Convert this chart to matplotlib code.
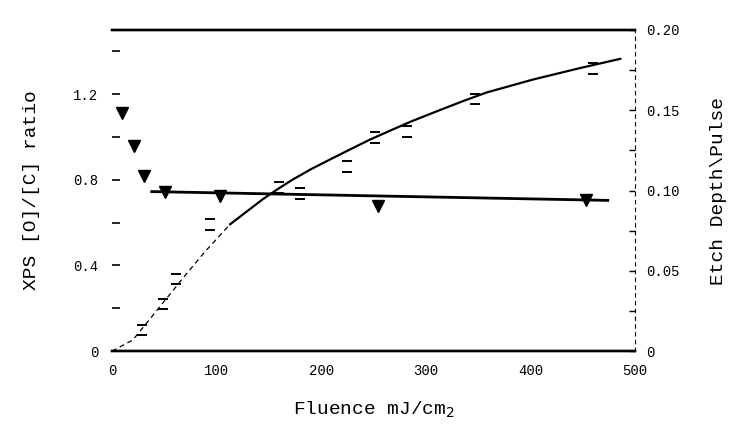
import matplotlib
matplotlib.use("Agg")
import matplotlib.pyplot as plt

# ---- data ----
fluence_ticks = [0, 100, 200, 300, 400, 500]
fluence_labels = ["0", "100", "200", "300", "400", "500"]

left_ticks = [0, 0.4, 0.8, 1.2]
left_labels = ["0", "0.4", "0.8", "1.2"]
left_minor = [0.2, 0.6, 1.0, 1.4]

right_ticks = [0, 0.05, 0.10, 0.15, 0.20]
right_labels = ["0", "0.05", "0.10", "0.15", "0.20"]
right_minor = [0.025, 0.075, 0.125, 0.175]

# XPS [O]/[C] ratio (triangles, left axis)
oc_fluence = [10, 21, 31, 51, 103, 254, 453]
oc_ratio = [1.11, 0.96, 0.82, 0.745, 0.726, 0.677, 0.706]

# straight fit through the ratio data
oc_fit_fluence = [38, 474]
oc_fit_ratio = [0.745, 0.704]

# Etch depth per pulse (error-bar caps, right axis)
etch_fluence = [29, 49, 61, 94, 160, 180, 225, 251, 282, 347, 460]
etch_depth = [0.0133, 0.0292, 0.0448, 0.0789, 0.102, 0.098, 0.115, 0.133, 0.137, 0.157, 0.176]
etch_err = [0.0032, 0.0032, 0.0032, 0.0032, 0.0034, 0.0034, 0.0032, 0.0032, 0.0034, 0.0032, 0.0034]

# fitted etch-depth curve
curve_lo_fluence = [0, 20, 35, 53, 71, 89, 113]
curve_lo_depth = [0.0, 0.007, 0.019, 0.0335, 0.048, 0.062, 0.079]
curve_hi_fluence = [113, 130, 144, 158, 172, 190, 209, 228, 246, 266, 286,
                    312, 337, 358, 402, 446, 486]
curve_hi_depth = [0.079, 0.0875, 0.0945, 0.1007, 0.1065, 0.1132, 0.1195, 0.1257,
                  0.1315, 0.1373, 0.143, 0.1497, 0.156, 0.161, 0.169, 0.176, 0.182]

mono = ["Liberation Mono", "DejaVu Sans Mono"]

fig = plt.figure(figsize=(7.44, 4.33), dpi=100)
ax = fig.add_axes([0.1505, 0.189, 0.703, 0.742])
ax2 = ax.twinx()

ax.set_xlim(0, 500)
ax.set_ylim(0, 1.5)
ax2.set_ylim(0, 0.2)

# ratio data
ax.plot(oc_fit_fluence, oc_fit_ratio, color="black", lw=2.0, zorder=3)
ax.plot(oc_fluence, oc_ratio, linestyle="none", marker="v", color="black",
        markersize=8, zorder=4)

# etch depth
ax2.plot(curve_lo_fluence, curve_lo_depth, color="black", lw=0.9,
         linestyle=(0, (4, 3)), zorder=3)
ax2.plot(curve_hi_fluence, curve_hi_depth, color="black", lw=1.6, zorder=3)
ax2.errorbar(etch_fluence, etch_depth, yerr=etch_err, fmt="none",
             ecolor="black", elinewidth=0, capsize=3.8, capthick=1.4, zorder=4)

# ticks
ax.set_xticks(fluence_ticks)
ax.set_xticklabels(fluence_labels, family=mono, fontsize=10)
ax.tick_params(axis="x", length=0, pad=9)

ax.set_yticks(left_ticks)
ax.set_yticklabels(left_labels, family=mono, fontsize=10)
ax.set_yticks(left_minor, minor=True)
ax.tick_params(axis="y", which="both", direction="in", length=6, width=1.2, pad=10)

ax2.set_yticks(right_ticks)
ax2.set_yticklabels(right_labels, family=mono, fontsize=10)
ax2.set_yticks(right_minor, minor=True)
ax2.tick_params(axis="y", which="both", direction="in", length=4, width=1.0, pad=8)

# spines
for a in (ax, ax2):
    a.spines["left"].set_visible(False)
    a.spines["top"].set_linewidth(1.7)
    a.spines["bottom"].set_linewidth(1.7)
    a.spines["right"].set_visible(False)
ax2.spines["right"].set_visible(True)
ax2.spines["right"].set_linewidth(0.8)
ax2.spines["right"].set_linestyle((0, (3, 4)))

# labels
ax.set_xlabel("Fluence mJ/cm$_2$", family=mono, fontsize=14, labelpad=16)
ax.set_ylabel("XPS [O]/[C] ratio", family=mono, fontsize=14, labelpad=24)
ax2.set_ylabel("Etch Depth\\Pulse", family=mono, fontsize=14, labelpad=22)

fig.savefig("out.png", dpi=100)
